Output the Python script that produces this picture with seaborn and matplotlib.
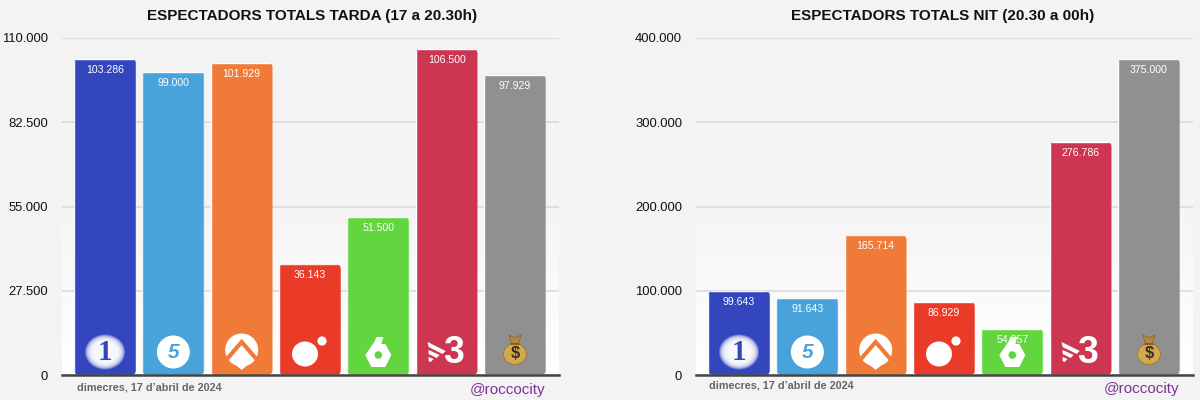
import numpy as np
import pandas as pd
import matplotlib
matplotlib.use("Agg")
import matplotlib.pyplot as plt
import seaborn as sns
from matplotlib.patches import FancyBboxPatch, Circle, Ellipse, Polygon
from matplotlib.transforms import IdentityTransform
from matplotlib.colors import LinearSegmentedColormap

channels = ["La 1", "Telecinco", "Antena 3", "Cuatro", "La Sexta", "TV3", "Diners"]
colors = ["#3346BE", "#48A3DA", "#F07B39", "#EA3A28", "#62D63F", "#CC3650", "#909090"]
tarda = [103286, 99000, 101929, 36143, 51500, 106500, 97929]
nit = [99643, 91643, 165714, 86929, 54857, 276786, 375000]
tarda_ticks = [0, 27500, 55000, 82500, 110000]
nit_ticks = [0, 100000, 200000, 300000, 400000]
title_tarda = "ESPECTADORS TOTALS TARDA (17 a 20.30h)"
title_nit = "ESPECTADORS TOTALS NIT (20.30 a 00h)"
date_label = "dimecres, 17 d\u2019abril de 2024"
handle = "@roccocity"

sns.set_theme(style="white")
plt.rcParams["font.family"] = ["Liberation Sans", "DejaVu Sans"]

BG = "#F3F3F3"
W, H = 1200, 400
fig = plt.figure(figsize=(12, 4), dpi=100, facecolor=BG)
fmt = lambda v: f"{v:,.0f}".replace(",", ".")
grad = LinearSegmentedColormap.from_list("g", [BG, "#F5F5F5", "#FFFFFF"])

over = fig.add_axes([0, 0, 1, 1], zorder=10)
over.set_xlim(0, W); over.set_ylim(H, 0); over.axis("off"); over.patch.set_alpha(0)


def logos(cx, color):
    ax = over
    # 1: soft white blob with serif numeral
    c = cx[0]
    for k in np.linspace(1, 0.6, 12):
        ax.add_patch(Ellipse((c, 352), 40 * k, 35 * k, fc="white", ec="none", alpha=0.25))
    ax.text(c, 352, "1", family="Liberation Serif", weight="bold", size=21, color=color[0],
            ha="center", va="center")
    # 5 on white disc
    c = cx[1]
    ax.add_patch(Circle((c, 352), 16.5, fc="white", ec="none"))
    ax.text(c, 353, "5", weight="bold", style="italic", size=15, color=color[1],
            ha="center", va="center")
    # Antena 3
    c = cx[2]
    ax.add_patch(Circle((c, 350), 16.5, fc="white", ec="none"))
    ax.plot([c - 19, c, c + 19], [364, 342, 364], color=color[2], lw=3.0, solid_joinstyle="miter")
    ax.add_patch(Polygon([(c, 349), (c + 11, 360), (c, 369), (c - 11, 360)],
                         fc="white", ec="white", lw=1, joinstyle="round"))
    # Cuatro
    c = cx[3]
    ax.add_patch(Ellipse((c - 5, 354), 26, 25, fc="white", ec="none"))
    ax.add_patch(Circle((c + 12, 341), 4.6, fc="white", ec="none"))
    # La Sexta
    c = cx[4]
    ax.add_patch(Polygon([(c - 13, 355), (c - 4, 342), (c - 2, 337), (c + 5, 337), (c + 3, 344), (c + 7, 344),
                          (c + 13, 355), (c + 7, 367), (c - 7, 367)], fc="white", ec="none"))
    ax.add_patch(Circle((c, 355), 3.8, fc=color[4], ec="none"))
    # TV3
    c = cx[5]
    ax.text(c + 6.5, 353, "3", weight="bold", size=27, color="white", ha="center", va="center")
    for pts in ([(c - 19, 342), (c - 1, 351), (c - 4, 354), (c - 18, 347)],
                [(c - 18, 350), (c - 7, 355), (c - 10, 358), (c - 18, 354)],
                [(c - 18, 357), (c - 13, 359), (c - 16, 362), (c - 18, 361)]):
        ax.add_patch(Polygon(pts, fc="white", ec="none"))
    # Money bag
    c = cx[6]
    ax.add_patch(Polygon([(c - 6, 335), (c, 338), (c + 6, 335), (c + 3, 345), (c - 3, 345)],
                         fc="#B8893A", ec="#8A6428", lw=0.6))
    ax.add_patch(Ellipse((c, 354), 23, 21, fc="#D2A94F", ec="#9C7530", lw=0.6))
    ax.plot([c - 4, c + 4], [344, 344], color="#7A5520", lw=1.2)
    ax.text(c, 354, "$", weight="bold", size=12, color="#3A3020", ha="center", va="center")


def panel(left, right, values, ticks, title, title_x, date_xy, handle_xy):
    top, bottom = 38, 375
    ax = fig.add_axes([left / W, 1 - bottom / H, (right - left) / W, (bottom - top) / H], zorder=1)
    df = pd.DataFrame({"canal": channels, "valor": values})
    sns.barplot(data=df, x="canal", y="valor", hue="canal", palette=colors, order=channels,
                hue_order=channels, legend=False, width=0.905, saturation=1, ax=ax, zorder=3)
    ax.imshow(np.linspace(0, 1, 256)[:, None], cmap=grad, aspect="auto", extent=(0, 1, 0, 1),
              transform=ax.transAxes, zorder=0)
    ax.set_xlim(-0.63, 6.645)
    ax.set_ylim(ticks[0], ticks[-1])
    ax.set_xlabel(""); ax.set_ylabel("")
    ax.set_xticks([])
    ax.set_yticks(ticks)
    ax.set_yticklabels([fmt(t) for t in ticks], fontsize=9.4, color="#111111")
    ax.tick_params(axis="y", length=0, pad=10)
    ax.yaxis.grid(True, color="#D8D8D8", lw=1.1, zorder=1)
    ax.set_axisbelow(True)
    sns.despine(ax=ax, left=True)
    ax.spines["bottom"].set_color("#444444")
    ax.spines["bottom"].set_linewidth(1.8)
    ax.spines["bottom"].set_zorder(6)
    ax.set_title(title, x=title_x, y=1, pad=13, fontsize=11, fontweight="bold", color="#111111")

    trans = ax.transData
    cx = []
    for bar, v in zip(ax.patches, values):
        x0, y0 = trans.transform((bar.get_x(), 0))
        x1, y1 = trans.transform((bar.get_x() + bar.get_width(), bar.get_height()))
        r = 5
        clip = FancyBboxPatch((x0 + r, y0 + r), (x1 - x0) - 2 * r, (y1 - y0) - 2 * r,
                              boxstyle=f"round,pad={r},rounding_size={r}",
                              transform=IdentityTransform())
        bar.set_clip_path(clip)
        cx.append((x0 + x1) / 2)
        ax.annotate(fmt(v), (bar.get_x() + bar.get_width() / 2, bar.get_height()),
                    xytext=(0, -8), textcoords="offset points",
                    ha="center", va="center", color="white", fontsize=7.6, zorder=5)
    logos(cx, colors)
    over.text(date_xy[0], date_xy[1], date_label, weight="bold", size=7.8, color="#666666",
              va="center", ha="left")
    over.text(handle_xy[0], handle_xy[1], handle, size=11, color="#7D3296", va="center", ha="left")


panel(62, 559, tarda, tarda_ticks, title_tarda, 0.503, (77, 388), (470, 390))
panel(696, 1193, nit, nit_ticks, title_nit, 0.4966, (709, 386), (1104, 389))

fig.savefig("out.png", dpi=100, facecolor=BG)
